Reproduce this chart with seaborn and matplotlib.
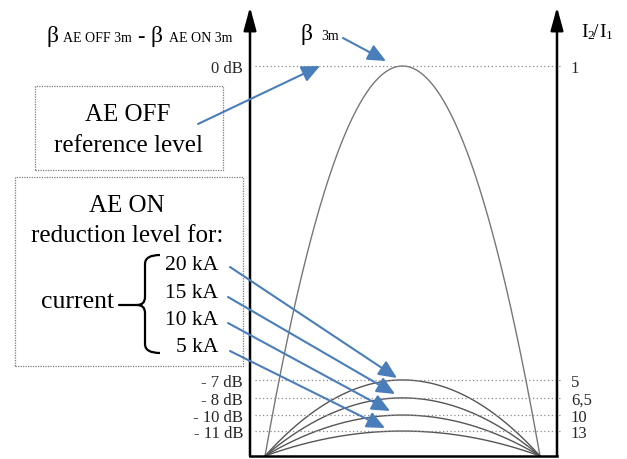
import numpy as np
import pandas as pd
import matplotlib
matplotlib.use("Agg")
import matplotlib.pyplot as plt
import seaborn as sns
from matplotlib.patches import Rectangle, PathPatch
from matplotlib.path import Path

# ---------------- data ----------------
curve_names = ["AE OFF", "20 kA", "15 kA", "10 kA", "5 kA"]
peak_levels = [1.0, 0.195, 0.149, 0.105, 0.064]      # relative heights of the beta_3m arches
db_labels = ["0 dB", "- 7 dB", "- 8 dB", "- 10 dB", "- 11 dB"]
ratio_labels = ["1", "5", "6,5", "10", "13"]
current_labels = ["20 kA", "15 kA", "10 kA", "5 kA"]

# ---------------- style ----------------
sns.set_style("white")
plt.rcParams["font.family"] = ["Liberation Serif", "DejaVu Serif"]
plt.rcParams["text.color"] = "black"

W, H = 627, 460
fig = plt.figure(figsize=(W / 100, H / 100), dpi=100)


def P(x, y):
    return (x / W, 1 - y / H)


# main axes (left axis at x=250px, right axis at x=557px)
ax = fig.add_axes([250 / W, 3 / H, (557 - 250) / W, (457 - 8) / H])

xs = np.linspace(0, 1, 301)
rows = []
for name, h in zip(curve_names, peak_levels):
    for x in xs:
        rows.append({"x": x, "y": h * 4 * x * (1 - x), "curve": name})
df = pd.DataFrame(rows)

palette = {"AE OFF": "#777777", "20 kA": "#555555", "15 kA": "#555555",
           "10 kA": "#555555", "5 kA": "#555555"}
sns.lineplot(data=df, x="x", y="y", hue="curve", palette=palette, estimator=None,
             legend=False, ax=ax, linewidth=1.0)

ax.set_xlim(-15 / 275, 1 + 17 / 275)
ax.set_ylim(0, 449 / 390)
ax.set_xlabel("")
ax.set_ylabel("")
ax.set_xticks([])
ax.set_yticks(peak_levels)
ax.set_yticklabels(db_labels)
ax.tick_params(axis="y", length=0, pad=5, labelsize=12)
for s in ["top", "left", "right"]:
    ax.spines[s].set_visible(False)
ax.spines["bottom"].set_color("black")
ax.spines["bottom"].set_linewidth(1.8)

# dotted reference levels
for h in peak_levels:
    ax.plot([0.015, 1.017], [h, h], transform=ax.get_yaxis_transform(),
            color="#8a8a8a", lw=0.9, linestyle=(0, (1, 2)), clip_on=False)

# right axis labels
ax2 = ax.twinx()
ax2.set_ylim(ax.get_ylim())
ax2.set_yticks(peak_levels)
ax2.set_yticklabels(ratio_labels)
ax2.tick_params(axis="y", length=0, pad=10, labelsize=12)
ax2.grid(False)
for s in ax2.spines.values():
    s.set_visible(False)

# vertical axes with arrow heads
for xa in (0, 1):
    ax.annotate("", xy=(xa, 1), xytext=(xa, 0), xycoords="axes fraction",
                arrowprops=dict(arrowstyle="-|>,head_length=1.4,head_width=0.38",
                                lw=1.8, color="black", shrinkA=0, shrinkB=0),
                annotation_clip=False)

# ---------------- header texts ----------------
def ftext(x, y, s, size, **kw):
    fig.text(x / W, 1 - y / H, s, fontsize=size, va="baseline", **kw)


ftext(46, 42, "β", 17)
ftext(63, 42, "AE OFF 3m", 10)
ftext(137.5, 42, "-", 16, fontweight="bold")
ftext(151, 42, "β", 17)
ftext(169, 42, "AE ON 3m", 10)

ftext(300, 40, "β", 17)
ftext(321, 40, "3m", 10)

ftext(581, 37, "I", 14)
ftext(587.5, 39, "2", 9.5)
ftext(593, 37, "/", 14)
ftext(599.5, 37, "I", 14)
ftext(606, 39, "1", 9.5)

# ---------------- boxes ----------------
for (x0, y0, x1, y1) in [(35, 87, 223, 171), (15, 178, 243, 367)]:
    fig.add_artist(Rectangle(P(x0, y1), (x1 - x0) / W, (y1 - y0) / H,
                             transform=fig.transFigure, fill=False,
                             ec="#7a7a7a", ls=(0, (1, 1)), lw=0.9))

ftext(128, 121, "AE OFF", 18, ha="center")
ftext(128, 152, "reference level", 18, ha="center")
ftext(127, 212, "AE ON", 18, ha="center")
ftext(127, 242, "reduction level for:", 18, ha="center")
ftext(78, 308, "current", 18.5, ha="center")
for lab, yb in zip(current_labels, [270, 298, 325, 352]):
    ftext(218, yb, lab, 15.5, ha="right")

# brace
verts = [P(160, 256), P(145, 256), P(145, 265), P(145, 298), P(145, 306), P(137, 306),
         P(145, 306), P(145, 314), P(145, 345), P(145, 354), P(160, 354)]
codes = [Path.MOVETO, Path.CURVE3, Path.CURVE3, Path.LINETO, Path.CURVE3, Path.CURVE3,
         Path.CURVE3, Path.CURVE3, Path.LINETO, Path.CURVE3, Path.CURVE3]
fig.add_artist(PathPatch(Path(verts, codes), transform=fig.transFigure,
                         fill=False, ec="black", lw=1.6))
fig.add_artist(plt.Line2D([119 / W, 137 / W], [1 - 306 / H, 1 - 306 / H],
                          transform=fig.transFigure, color="black", lw=1.6))

# ---------------- blue arrows ----------------
blue = "#4a7ebb"
arrows = [((198, 125), (320, 67)),
          ((343, 39), (386, 62)),
          ((230, 268), (397, 379)),
          ((228, 298), (395, 395)),
          ((228, 324), (390, 412)),
          ((230, 352), (385, 429))]
for (x0, y0), (x1, y1) in arrows:
    ax.annotate("", xy=P(x1, y1), xytext=P(x0, y0), xycoords="figure fraction",
                textcoords="figure fraction",
                arrowprops=dict(arrowstyle="-|>,head_length=1.1,head_width=0.5",
                                color=blue, lw=1.5, shrinkA=0, shrinkB=0),
                annotation_clip=False)

fig.savefig("out.png", dpi=100)
